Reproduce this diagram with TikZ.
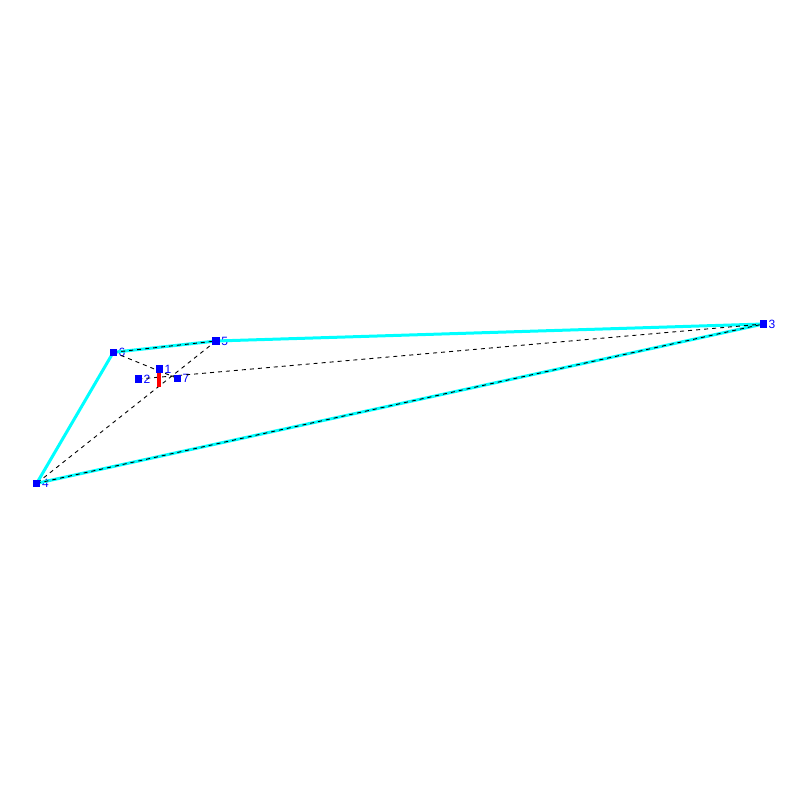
\documentclass[tikz,border=0pt]{standalone}
\usepackage{fontspec}
\setmainfont{Liberation Sans}
\usepackage{tikz}
\usetikzlibrary{
    arrows.meta,      % For arrow tips
    positioning       % For node placement
}
\definecolor{memcyan}{RGB}{0,255,255}
\definecolor{jointblue}{RGB}{0,0,255}
\definecolor{loadred}{RGB}{255,0,0}
\tikzset{
  % Style for the square joint markers
  joint/.style={
    rectangle, fill=jointblue, inner sep=0pt, minimum size=3.6pt,
    label={[label distance=0.5pt, text=jointblue, inner sep=0pt,
            font=\fontsize{6}{7}\selectfont]right:#1}
  },
  % Style for the cyan outline members
  member/.style={
    memcyan, line width=1.5pt
  },
  % Style for the dashed bracing lines
  brace/.style={
    black, line width=0.45pt, dash pattern=on 2pt off 2pt
  },
  % Style for the red load bar
  load/.style={
    loadred, line width=2pt
  }
}

\begin{document}
\begin{tikzpicture}[x=0.5pt, y=-0.5pt]
    \useasboundingbox (0,0) rectangle (800,800);

    % joints
    \node[joint=1] (p1) at (159.3,369) {};
    \node[joint=2] (p2) at (138.3,379) {};
    \node[joint=3] (p3) at (763.3,324) {};
    \node[joint=4] (p4) at (36.7,483.3) {};
    \node[joint=5] (p5) at (216,341) {};
    \node[joint=6] (p6) at (113.3,352.3) {};
    \node[joint=7] (p7) at (177.3,378.3) {};
    \coordinate (f1) at (159.3,387);

    % outline
    \draw[member] (p6.center) -- (p5.center) -- (p3.center) -- (p4.center) -- cycle;

    % bracing
    \draw[brace] (p6.center) -- (p5.center);
    \draw[brace] (p4.center) -- (p3.center);
    \draw[brace] (p5.center) -- (p4.center);
    \draw[brace] (p6.center) -- (p7.center);
    \draw[brace] (p2.center) -- (p3.center);

    % load
    \draw[load] (p1.south) -- (f1);

    % markers on top
    \foreach \p in {p1,p2,p3,p4,p5,p6,p7}
        \fill[jointblue] ([shift={(-1.8pt,-1.8pt)}]\p.center) rectangle ([shift={(1.8pt,1.8pt)}]\p.center);
\end{tikzpicture}
\end{document}
